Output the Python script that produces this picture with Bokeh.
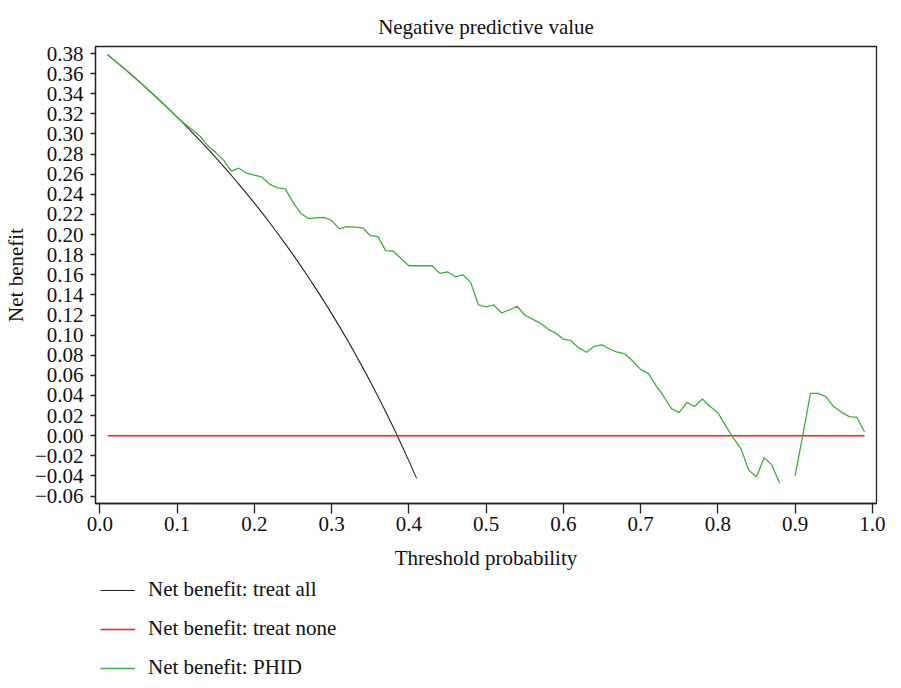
from bokeh.plotting import figure
from bokeh.layouts import column
from bokeh.models import Range1d, FixedTicker, CustomJSTickFormatter, Legend, LegendItem
from bokeh.embed import file_html
from bokeh.resources import INLINE

nan = float("nan")

threshold = [0.01, 0.02, 0.03, 0.04, 0.05, 0.06, 0.07, 0.08, 0.09, 0.10,
             0.11, 0.12, 0.13, 0.14, 0.15, 0.16, 0.17, 0.18, 0.19, 0.20,
             0.21, 0.22, 0.23, 0.24, 0.25, 0.26, 0.27, 0.28, 0.29, 0.30,
             0.31, 0.32, 0.33, 0.34, 0.35, 0.36, 0.37, 0.38, 0.39, 0.40,
             0.41, 0.42, 0.43, 0.44, 0.45, 0.46, 0.47, 0.48, 0.49, 0.50,
             0.51, 0.52, 0.53, 0.54, 0.55, 0.56, 0.57, 0.58, 0.59, 0.60,
             0.61, 0.62, 0.63, 0.64, 0.65, 0.66, 0.67, 0.68, 0.69, 0.70,
             0.71, 0.72, 0.73, 0.74, 0.75, 0.76, 0.77, 0.78, 0.79, 0.80,
             0.81, 0.82, 0.83, 0.84, 0.85, 0.86, 0.87, 0.88, 0.89, 0.90,
             0.91, 0.92, 0.93, 0.94, 0.95, 0.96, 0.97, 0.98, 0.99]

treat_all_x = threshold[:41]
treat_all = [0.3788, 0.3724, 0.3660, 0.3594, 0.3526, 0.3457, 0.3387, 0.3315, 0.3242, 0.3167,
             0.3090, 0.3011, 0.2931, 0.2849, 0.2765, 0.2679, 0.2590, 0.2500, 0.2407, 0.2313,
             0.2215, 0.2115, 0.2013, 0.1908, 0.1800, 0.1689, 0.1575, 0.1458, 0.1338, 0.1214,
             0.1087, 0.0956, 0.0821, 0.0682, 0.0539, 0.0391, 0.0238, 0.0081, -0.0082, -0.0250,
             -0.0424]

treat_none_x = [0.01, 0.99]
treat_none = [0.0, 0.0]

phid = [0.3788, 0.3724, 0.3660, 0.3594, 0.3526, 0.3457, 0.3387, 0.3315, 0.3242, 0.3167,
        0.3100, 0.3040, 0.2975, 0.2880, 0.2815, 0.2740, 0.2630, 0.2660, 0.2610, 0.2590,
        0.2570, 0.2500, 0.2465, 0.2455, 0.2320, 0.2210, 0.2160, 0.2166, 0.2170, 0.2140,
        0.2057, 0.2080, 0.2075, 0.2067, 0.1990, 0.1980, 0.1840, 0.1834, 0.1760, 0.1690,
        0.1690, 0.1690, 0.1690, 0.1615, 0.1630, 0.1580, 0.1600, 0.1525, 0.1300, 0.1280,
        0.1300, 0.1220, 0.1250, 0.1287, 0.1200, 0.1160, 0.1120, 0.1060, 0.1020, 0.0960,
        0.0945, 0.0873, 0.0830, 0.0889, 0.0904, 0.0862, 0.0830, 0.0813, 0.0740, 0.0660,
        0.0620, 0.0498, 0.0390, 0.0270, 0.0230, 0.0331, 0.0290, 0.0365, 0.0290, 0.0230,
        0.0100, -0.0020, -0.0130, -0.0340, -0.0410, -0.0220, -0.0290, -0.0470, nan, -0.0400,
        0.0000, 0.0421, 0.0421, 0.0388, 0.0290, 0.0235, 0.0190, 0.0182, 0.0040]

x_ticks = [0.0, 0.1, 0.2, 0.3, 0.4, 0.5, 0.6, 0.7, 0.8, 0.9, 1.0]
y_ticks = [-0.06, -0.04, -0.02, 0.0, 0.02, 0.04, 0.06, 0.08, 0.10, 0.12, 0.14, 0.16,
           0.18, 0.20, 0.22, 0.24, 0.26, 0.28, 0.30, 0.32, 0.34, 0.36, 0.38]

legend_labels = ["Net benefit: treat all", "Net benefit: treat none", "Net benefit: PHID"]

FONT = "Liberation Serif"
FS = "21px"
INK = "#111111"
FRAME = "#222222"
C_ALL = "#222222"
C_NONE = "#ff1a1a"
C_PHID = "#3daf3d"

p = figure(width=885, height=575, output_backend="svg", toolbar_location=None,
           x_range=Range1d(-0.00578, 1.0055), y_range=Range1d(-0.0674, 0.387),
           min_border_left=88, min_border_right=9, min_border_top=46, min_border_bottom=72,
           title="Negative predictive value")

p.title.align = "center"
p.title.text_font = FONT
p.title.text_font_size = FS
p.title.text_font_style = "normal"
p.title.text_color = INK
p.title.standoff = 15

p.xgrid.visible = False
p.ygrid.visible = False
p.outline_line_color = FRAME
p.outline_line_width = 1.3
p.outline_line_alpha = 1.0
p.background_fill_color = "white"
p.border_fill_color = "white"

for ax in (p.xaxis[0], p.yaxis[0]):
    ax.axis_line_color = FRAME
    ax.axis_line_width = 1.3
    ax.major_tick_line_color = FRAME
    ax.major_tick_line_width = 1.3
    ax.major_tick_in = 0
    ax.minor_tick_in = 0
    ax.minor_tick_out = 0
    ax.major_label_text_font = FONT
    ax.major_label_text_font_size = FS
    ax.major_label_text_color = INK
    ax.axis_label_text_font = FONT
    ax.axis_label_text_font_size = FS
    ax.axis_label_text_font_style = "normal"
    ax.axis_label_text_color = INK

xa = p.xaxis[0]
xa.ticker = FixedTicker(ticks=x_ticks, minor_ticks=[])
xa.formatter = CustomJSTickFormatter(code="return tick.toFixed(1);")
xa.major_tick_out = 10
xa.major_label_standoff = 3
xa.axis_label = "Threshold probability"
xa.axis_label_standoff = 12

ya = p.yaxis[0]
ya.ticker = FixedTicker(ticks=y_ticks, minor_ticks=[])
ya.formatter = CustomJSTickFormatter(
    code="const v = Math.abs(tick) < 1e-9 ? 0 : tick; return (v < 0 ? '\u2212' : '') + Math.abs(v).toFixed(2);")
ya.major_tick_out = 5
ya.major_label_standoff = 7
ya.axis_label = "Net benefit"
ya.axis_label_standoff = 4

p.line(treat_all_x, treat_all, line_color=C_ALL, line_width=1.1)
p.line(treat_none_x, treat_none, line_color=C_NONE, line_width=1.5)
p.line(threshold, phid, line_color=C_PHID, line_width=1.3)

# legend strip below the chart (its frame is aligned with the chart's frame;
# the series are drawn again here only as legend sources, outside its visible range)
lg = figure(width=885, height=105, output_backend="svg", toolbar_location=None,
            x_range=Range1d(0, 1), y_range=Range1d(10, 11),
            min_border_left=0, min_border_right=0, min_border_top=0, min_border_bottom=0)
lg.axis.visible = False
lg.xgrid.visible = False
lg.ygrid.visible = False
lg.outline_line_color = None
lg.background_fill_color = "white"
lg.border_fill_color = "white"

r_all = lg.line(treat_all_x, treat_all, line_color=C_ALL, line_width=1.1)
r_none = lg.line(treat_none_x, treat_none, line_color=C_NONE, line_width=1.5)
r_phid = lg.line(threshold, phid, line_color=C_PHID, line_width=1.5)

legend = Legend(items=[LegendItem(label=legend_labels[0], renderers=[r_all]),
                       LegendItem(label=legend_labels[1], renderers=[r_none]),
                       LegendItem(label=legend_labels[2], renderers=[r_phid])],
                location=(5, 0), orientation="vertical",
                glyph_width=35, glyph_height=24, label_height=24, label_standoff=13,
                spacing=14, padding=0, margin=0,
                border_line_alpha=0, background_fill_alpha=0,
                label_text_font=FONT, label_text_font_size=FS, label_text_color=INK)
lg.add_layout(legend)

page = column(p, lg, spacing=0)

open("out.html", "w").write(file_html(page, INLINE))
